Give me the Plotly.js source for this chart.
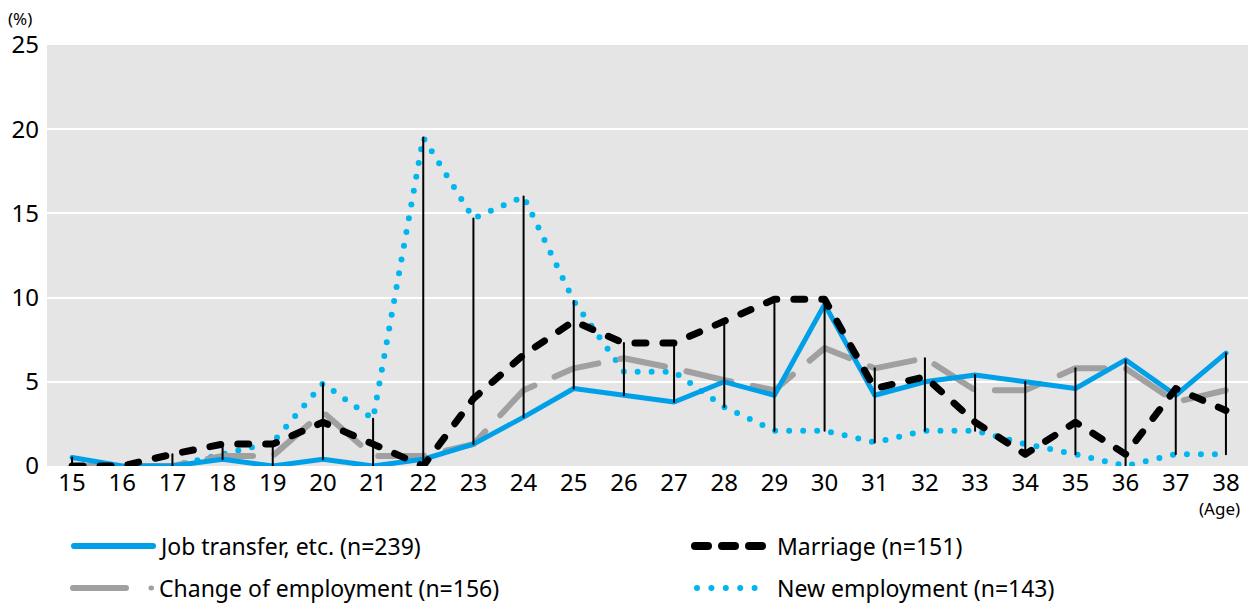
<!DOCTYPE html>
<html>
<head>
<meta charset="utf-8">
<script src="https://cdn.plot.ly/plotly-3.0.1.min.js"></script>
<style>
  html, body { margin: 0; padding: 0; background: #fff; }
  #chart { width: 1248px; height: 604px; }
  .scatterlayer path.js-line { stroke-linecap: round; stroke-linejoin: round; }
  .shapelayer path { stroke-linecap: round; }
</style>
</head>
<body>
<div id="chart"></div>
<script>
const ages = [15,16,17,18,19,20,21,22,23,24,25,26,27,28,29,30,31,32,33,34,35,36,37,38];
const jobTransfer = [0.5,0,0,0.4,0,0.4,0,0.4,1.3,2.9,4.6,4.2,3.8,5.0,4.2,9.6,4.2,5.0,5.4,5.0,4.6,6.3,4.2,6.7];
const marriage = [0,0,0.7,1.3,1.3,2.6,1.3,0,4.0,6.6,8.6,7.3,7.3,8.6,9.9,9.9,4.6,5.3,2.6,0.7,2.6,0.7,4.6,3.3];
const changeEmp = [0,0,0,0.6,0.6,3.2,0.6,0.6,1.3,4.5,5.8,6.4,5.8,5.1,4.5,7.0,5.8,6.4,4.5,4.5,5.8,5.8,3.8,4.5];
const newEmp = [0,0,0,0.7,1.4,4.9,2.8,19.5,14.7,16.0,9.8,5.6,5.6,3.5,2.1,2.1,1.4,2.1,2.1,1.3,0.7,0,0.7,0.7];
const seriesNames = ["Job transfer, etc. (n=239)", "Marriage (n=151)", "Change of employment (n=156)", "New employment (n=143)"];
const yTicks = [0,5,10,15,20,25];

const FONT = "Noto Sans, Open Sans, sans-serif";
const BLUE = "#00a0e9", BLACK = "#000000", GRAY = "#a0a0a0", CYAN = "#00b6ef";

// range (drop) lines between min and max of the four series at each age
const rx = [], ry = [];
ages.forEach((a, i) => {
  const vals = [jobTransfer[i], marriage[i], changeEmp[i], newEmp[i]];
  const lo = Math.min(...vals), hi = Math.max(...vals);
  if (hi > lo) { rx.push(a, a, null); ry.push(lo, hi, null); }
});

const traces = [
  {x: ages, y: newEmp, mode: "lines", name: seriesNames[3], line: {color: CYAN, width: 6, dash: "0px,14px"}},
  {x: ages, y: changeEmp, mode: "lines", name: seriesNames[2], line: {color: GRAY, width: 6, dash: "46px,22px"}},
  {x: ages, y: jobTransfer, mode: "lines", name: seriesNames[0], line: {color: BLUE, width: 5}},
  {x: ages, y: marriage, mode: "lines", name: seriesNames[1], line: {color: BLACK, width: 7, dash: "11px,17px"}},
  {x: rx, y: ry, mode: "lines", line: {color: BLACK, width: 2}, connectgaps: false, hoverinfo: "skip"}
];

// custom legend in paper coordinates
const L = 47, W = 1201, B = 466, H = 421;
const px = v => (v - L) / W, py = v => (B - v) / H;
const shapes = [
  {type: "line", xref: "paper", yref: "paper", x0: px(74), x1: px(153), y0: py(546), y1: py(546), line: {color: BLUE, width: 6}},
  {type: "line", xref: "paper", yref: "paper", x0: px(695), x1: px(769), y0: py(546), y1: py(546), line: {color: BLACK, width: 8, dash: "13px,14px"}},
  {type: "line", xref: "paper", yref: "paper", x0: px(73), x1: px(126), y0: py(588), y1: py(588), line: {color: GRAY, width: 6}},
  {type: "line", xref: "paper", yref: "paper", x0: px(151), x1: px(151.5), y0: py(588), y1: py(588), line: {color: GRAY, width: 5}},
  {type: "line", xref: "paper", yref: "paper", x0: px(697), x1: px(769), y0: py(588), y1: py(588), line: {color: CYAN, width: 6, dash: "0px,14.4px"}}
];
const ann = (x, y, text, size, anchor) => ({xref: "paper", yref: "paper", x: px(x), y: py(y), text, showarrow: false, xanchor: anchor || "left", yanchor: "middle", font: {family: FONT, size, color: "#000"}});
const annotations = [
  ann(157, 546, seriesNames[0], 23),
  ann(775, 546, seriesNames[1], 23),
  ann(157, 588, seriesNames[2], 23),
  ann(775, 588, seriesNames[3], 23),
  ann(6, 18, "(%)", 17),
  ann(1242, 509, "(Age)", 17, "right")
];

const layout = {
  width: 1248, height: 604,
  margin: {l: 47, r: 0, t: 45, b: 138, pad: 0},
  paper_bgcolor: "#ffffff", plot_bgcolor: "#e5e5e5",
  showlegend: false,
  font: {family: FONT, color: "#000"},
  xaxis: {range: [14.5, 38.44], tickvals: ages, ticktext: ages.map(String), showgrid: false, zeroline: false,
          showline: false, ticks: "", tickfont: {family: FONT, size: 24, color: "#000"}, fixedrange: true},
  yaxis: {range: [0, 25], tickvals: yTicks, ticktext: yTicks.map(String), showgrid: true, gridcolor: "#ffffff", gridwidth: 2,
          zeroline: false, showline: false, ticks: "", ticklabelstandoff: 7, tickfont: {family: FONT, size: 24, color: "#000"}, fixedrange: true},
  shapes, annotations
};

Plotly.newPlot("chart", traces, layout, {displayModeBar: false, staticPlot: true});
</script>
</body>
</html>
